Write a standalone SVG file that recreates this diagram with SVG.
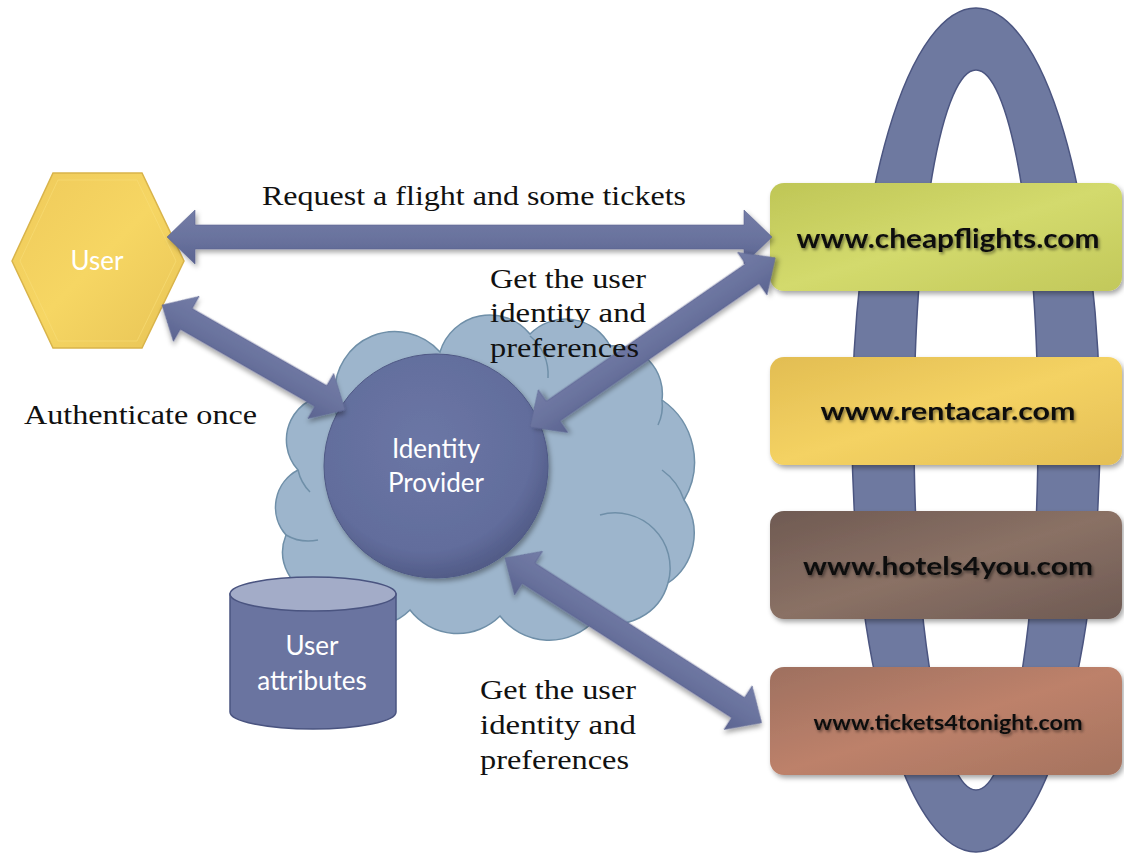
<svg xmlns="http://www.w3.org/2000/svg" width="1124" height="856" viewBox="0 0 1124 856">
<style>
.serif{font-family:"Liberation Serif","Times New Roman",serif;font-size:28px;fill:#111}
.wlab{font-family:Lato,"Open Sans",sans-serif;font-size:26px;fill:#ffffff}
.blab{font-family:Lato,"Open Sans",sans-serif;font-weight:bold;fill:#111}
.arrow{fill:url(#arrowGrad);stroke:#5a6390;stroke-width:0.6;filter:url(#shadow)}
.box{filter:url(#shadow)}
.seam{fill:none;stroke:#6f8fa8;stroke-width:1.5}
</style>
<defs>
<filter id="shadow" x="-10%" y="-20%" width="130%" height="150%">
<feDropShadow dx="2" dy="3" stdDeviation="2.5" flood-color="#000" flood-opacity="0.35"/>
</filter>
<filter id="tshadow" x="-5%" y="-30%" width="110%" height="160%">
<feDropShadow dx="1.5" dy="2" stdDeviation="1.5" flood-color="#000" flood-opacity="0.45"/>
</filter>
<linearGradient id="arrowGrad" x1="0" y1="0" x2="0" y2="1">
<stop offset="0" stop-color="#737ca6"/>
<stop offset="0.5" stop-color="#6a739e"/>
<stop offset="1" stop-color="#5b6490"/>
</linearGradient>
<radialGradient id="circGrad" cx="0.45" cy="0.4" r="0.6">
<stop offset="0" stop-color="#6b76a5"/>
<stop offset="0.8" stop-color="#626d9c"/>
<stop offset="1" stop-color="#525c88"/>
</radialGradient>
<linearGradient id="hexGrad" x1="0" y1="0" x2="1" y2="1">
<stop offset="0" stop-color="#efca5a"/>
<stop offset="0.5" stop-color="#f6d663"/>
<stop offset="1" stop-color="#e8c456"/>
</linearGradient>
<linearGradient id="gCheap" x1="0" y1="0" x2="1" y2="1">
<stop offset="0" stop-color="#bfc656"/>
<stop offset="0.5" stop-color="#d3da6d"/>
<stop offset="1" stop-color="#c2c85a"/>
</linearGradient>
<linearGradient id="gRent" x1="0" y1="0" x2="1" y2="1">
<stop offset="0" stop-color="#e2bd52"/>
<stop offset="0.5" stop-color="#f4d263"/>
<stop offset="1" stop-color="#e4bf55"/>
</linearGradient>
<linearGradient id="gHotel" x1="0" y1="0" x2="1" y2="1">
<stop offset="0" stop-color="#6f5a52"/>
<stop offset="0.5" stop-color="#8a7165"/>
<stop offset="1" stop-color="#6e5a53"/>
</linearGradient>
<linearGradient id="gTick" x1="0" y1="0" x2="1" y2="1">
<stop offset="0" stop-color="#9e7060"/>
<stop offset="0.5" stop-color="#bd816a"/>
<stop offset="1" stop-color="#a5735f"/>
</linearGradient>
</defs>

<g id="ring">
<path fill="#6e79a0" stroke="#4b5580" stroke-width="1.5" fill-rule="evenodd" d="M 852 430 A 124 422 0 1 1 1100 430 A 124 422 0 1 1 852 430 Z M 914 430 A 62 360 0 1 0 1038 430 A 62 360 0 1 0 914 430 Z"/>
</g>

<g id="cloud">
<path fill="#9db5cc" stroke="#6f8fa8" stroke-width="1.5" d="M 298 470 A 45 45 0 0 1 335 395 A 60 60 0 0 1 440 352 A 52 52 0 0 1 530 334 A 50 50 0 0 1 610 346 A 48 48 0 0 1 662 400 A 75 75 0 0 1 684 500 A 60 60 0 0 1 668 583 A 55 55 0 0 1 595 620 A 62 62 0 0 1 500 616 A 60 60 0 0 1 410 610 A 58 58 0 0 1 318 596 A 45 45 0 0 1 286 535 A 42 42 0 0 1 298 470 Z"/>
<path class="seam" d="M 298 470 A 45 45 0 0 0 310 492"/>
<path class="seam" d="M 335 395 A 55 55 0 0 0 338 420"/>
<path class="seam" d="M 530 336 A 50 50 0 0 1 548 378"/>
<path class="seam" d="M 662 400 A 45 45 0 0 1 658 425"/>
<path class="seam" d="M 684 500 A 60 60 0 0 0 662 470"/>
<path class="seam" d="M 668 583 A 55 55 0 0 0 600 515"/>
<path class="seam" d="M 286 535 A 45 45 0 0 0 318 540"/>
</g>

<g id="identity-provider">
<circle cx="436" cy="466" r="112" fill="url(#circGrad)" stroke="#4f5985" stroke-width="1" filter="url(#shadow)"/>
<text class="wlab" x="436" y="458" text-anchor="middle">Identity</text>
<text class="wlab" x="436" y="492" text-anchor="middle">Provider</text>
</g>

<g id="user">
<path d="M12,261 L53,173 L142,173 L184,261 L142,348 L53,348 Z" fill="url(#hexGrad)" stroke="#d9b44a" stroke-width="1.5"/>
<path d="M20,261 L58,180 L137,180 L176,261 L137,341 L58,341 Z" fill="none" stroke="#f8dd78" stroke-width="1" opacity="0.6"/>
<text class="wlab" x="97" y="270" text-anchor="middle" font-size="28">User</text>
</g>

<g id="user-attributes">
<path d="M230 594 L230 712 A 83 17 0 0 0 396 712 L396 594 Z" fill="#6a74a0" stroke="#4a5480" stroke-width="1.5"/>
<ellipse cx="313" cy="594" rx="83" ry="17" fill="#a3acc8" stroke="#4a5480" stroke-width="1.5"/>
<text class="wlab" x="312" y="655" text-anchor="middle">User</text>
<text class="wlab" x="312" y="690" text-anchor="middle">attributes</text>
</g>

<g id="cheapflights">
<rect class="box" x="770" y="183" width="352" height="108" rx="14" fill="url(#gCheap)"/>
<text class="blab" x="948" y="248" text-anchor="middle" font-size="26" textLength="303" lengthAdjust="spacingAndGlyphs" filter="url(#tshadow)">www.cheapflights.com</text>
</g>

<g id="rentacar">
<rect class="box" x="770" y="357" width="352" height="108" rx="14" fill="url(#gRent)"/>
<text class="blab" x="948" y="420" text-anchor="middle" font-size="25" textLength="255" lengthAdjust="spacingAndGlyphs" filter="url(#tshadow)">www.rentacar.com</text>
</g>

<g id="hotels4you">
<rect class="box" x="770" y="511" width="352" height="108" rx="14" fill="url(#gHotel)"/>
<text class="blab" x="948" y="575" text-anchor="middle" font-size="25" textLength="290" lengthAdjust="spacingAndGlyphs" filter="url(#tshadow)">www.hotels4you.com</text>
</g>

<g id="tickets4tonight">
<rect class="box" x="770" y="667" width="352" height="108" rx="14" fill="url(#gTick)"/>
<text class="blab" x="948" y="730" text-anchor="middle" font-size="21" textLength="269" lengthAdjust="spacingAndGlyphs" filter="url(#tshadow)">www.tickets4tonight.com</text>
</g>

<g id="connectors">
<path class="arrow" transform="translate(167,237)" d="M0,0 L28,-27 L28,-12 L577,-12 L577,-27 L605,0 L577,27 L577,12 L28,12 L28,27 Z"/>
<path class="arrow" transform="translate(162,305) rotate(29.8)" d="M0,0 L28,-26 L28,-12 L183,-12 L183,-26 L211,0 L183,26 L183,12 L28,12 L28,26 Z"/>
<path class="arrow" transform="translate(530,427) rotate(-34.6)" d="M0,0 L28,-26 L28,-12 L270,-12 L270,-26 L298,0 L270,26 L270,12 L28,12 L28,26 Z"/>
<path class="arrow" transform="translate(505,558) rotate(32.7)" d="M0,0 L28,-26 L28,-12 L277,-12 L277,-26 L305,0 L277,26 L277,12 L28,12 L28,26 Z"/>
</g>

<g id="labels">
<text class="serif" x="262" y="205" textLength="424" lengthAdjust="spacingAndGlyphs">Request a flight and some tickets</text>
<text class="serif" x="490" y="288" textLength="156" lengthAdjust="spacingAndGlyphs">Get the user</text>
<text class="serif" x="490" y="322" textLength="156" lengthAdjust="spacingAndGlyphs">identity and</text>
<text class="serif" x="490" y="357" textLength="149" lengthAdjust="spacingAndGlyphs">preferences</text>
<text class="serif" x="24" y="424" textLength="233" lengthAdjust="spacingAndGlyphs">Authenticate once</text>
<text class="serif" x="480" y="699" textLength="156" lengthAdjust="spacingAndGlyphs">Get the user</text>
<text class="serif" x="480" y="734" textLength="156" lengthAdjust="spacingAndGlyphs">identity and</text>
<text class="serif" x="480" y="769" textLength="149" lengthAdjust="spacingAndGlyphs">preferences</text>
</g>
</svg>
